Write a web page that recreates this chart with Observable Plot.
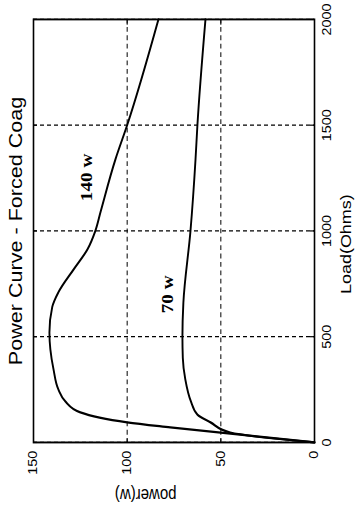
<!DOCTYPE html>
<html><head><meta charset="utf-8">
<script src="https://cdn.jsdelivr.net/npm/d3@7"></script>
<script src="https://cdn.jsdelivr.net/npm/@observablehq/plot@0.6"></script>
<style>
html,body{margin:0;padding:0;background:#fff;}
#wrap{position:relative;width:356px;height:506px;overflow:hidden;background:#fff;}
#chart{position:absolute;left:0;top:0;width:422px;height:356px;transform-origin:0 0;transform:translate(0px,506px) rotate(-90deg) scale(1.19905,1);}
</style></head><body><div id="wrap"><div id="chart"></div></div>
<script>
// ---- data ----
const titleText = "Power Curve - Forced Coag";
const xLabel = "Load(Ohms)";
const yLabel = "power(w)";
const loadTicks = [0, 500, 1000, 1500, 2000];
const powerTicks = [0, 50, 100, 150];

const load140  = [0, 71, 95, 142, 194, 250, 345, 440, 520, 640, 710, 818, 913, 1000, 1090, 1340, 1500, 2000];
const power140 = [0, 77, 100, 125, 133, 136.7, 139.3, 141, 141.5, 140, 136.7, 128.6, 121.2, 117, 114.2, 106.2, 100, 83.3];

const load70  = [0, 47, 95, 132, 195, 300, 400, 500, 660, 1000, 1340, 1500, 2000];
const power70 = [0, 45, 55.5, 62.5, 66, 69, 70.3, 70.5, 70, 66.2, 63.5, 62.5, 58.2];

const seriesNames = ["140 w", "70 w"];
const nameLoad = [1253, 700];
const namePower = [121.4, 78.5];

// ---- build ----
const s140 = load140.map((l, i) => ({load: l, power: power140[i]}));
const s70 = load70.map((l, i) => ({load: l, power: power70[i]}));
const names = seriesNames.map((n, i) => ({name: n, load: nameLoad[i], power: namePower[i]}));

const W = 422, H = 356, mL = 52.5, mR = 16.7, mT = 33, mB = 42;
const fw = W - mL - mR, fh = H - mT - mB;
const tick = 4;
const dash = {stroke: "black", strokeOpacity: 1, strokeWidth: 1, strokeDasharray: "4,3"};

const chart = Plot.plot({
  width: W, height: H,
  marginLeft: mL, marginRight: mR, marginTop: mT, marginBottom: mB,
  style: {fontFamily: "'Liberation Sans', Arial, sans-serif", fontSize: "12px", color: "black", background: "white", overflow: "visible"},
  x: {domain: [0, 2000]},
  y: {domain: [0, 150]},
  marks: [
    Plot.gridX(loadTicks, dash),
    Plot.gridY(powerTicks, dash),
    Plot.ruleX(loadTicks, {x: d => d, insetTop: fh - tick, stroke: "black", strokeWidth: 1}),
    Plot.ruleX(loadTicks, {x: d => d, insetBottom: fh - tick, stroke: "black", strokeWidth: 1}),
    Plot.ruleY(powerTicks, {y: d => d, insetRight: fw - tick, stroke: "black", strokeWidth: 1}),
    Plot.ruleY(powerTicks, {y: d => d, insetLeft: fw - tick, stroke: "black", strokeWidth: 1}),
    Plot.frame({stroke: "black", strokeWidth: 1.6}),
    Plot.axisX(loadTicks, {tickSize: 0, tickPadding: 8, tickFormat: d => String(d), fontSize: 12, label: null}),
    Plot.axisY(powerTicks, {tickSize: 0, tickPadding: 7, tickFormat: d => String(d), fontSize: 12, label: null}),
    Plot.line(s140, {x: "load", y: "power", stroke: "black", strokeWidth: 1.9, curve: "monotone-x"}),
    Plot.line(s70, {x: "load", y: "power", stroke: "black", strokeWidth: 1.9, curve: "monotone-x"}),
    Plot.text(names, {x: "load", y: "power", text: "name", fontFamily: "'Liberation Serif', 'Times New Roman', serif", fontWeight: "bold", fontSize: 16, fill: "black", textAnchor: "middle", lineAnchor: "middle"}),
    Plot.text([titleText], {frameAnchor: "top", dy: -12, lineAnchor: "bottom", fontSize: 18, fill: "black"}),
    Plot.text([xLabel], {frameAnchor: "bottom", dx: -11, dy: 36, lineAnchor: "bottom", fontSize: 15, fill: "black"}),
    Plot.text([yLabel], {frameAnchor: "left", dx: -39, dy: 2.5, rotate: -90, lineAnchor: "bottom", fontSize: 15, fill: "black"})
  ]
});
document.getElementById("chart").appendChild(chart);
</script></body></html>
